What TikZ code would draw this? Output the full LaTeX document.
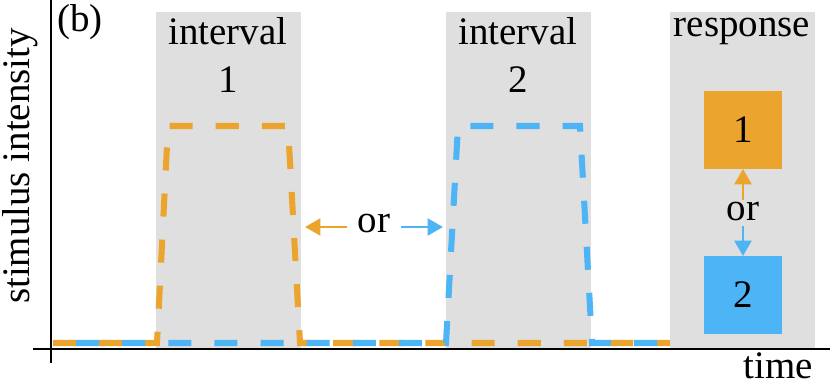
\documentclass[tikz,border=0pt]{standalone}
\usepackage{fontspec}
\setmainfont{Liberation Serif}
\newfontfamily\trialfont{Liberation Serif}
\usepackage{tikz}
\usetikzlibrary{arrows.meta,positioning}
\definecolor{stimorange}{HTML}{EBA42E}
\definecolor{stimblue}{HTML}{4DB4F5}
\definecolor{bandgray}{HTML}{DFDFDF}
\tikzset{
  trial-band/.style={fill=bandgray, draw=none},
  trial-label/.style={font=\trialfont\fontsize{27.7}{32}\selectfont, inner sep=0pt, align=center},
  trial-stim/.style={line width=4.3pt, dash pattern=on 16.4pt off 16.4pt},
  trial-resp/.style={minimum width=1.95cm, minimum height=1.93cm, inner sep=0pt,
    font=\trialfont\fontsize{27.7}{32}\selectfont},
  trial-arrow/.style={line width=2.1pt, -{Triangle[length=11pt, width=12pt]}},
  trial-axis/.style={line width=2.1pt, black}
}

\begin{document}
\begin{tikzpicture}[x=0.025cm, y=-0.025cm]
  \useasboundingbox (0,0) rectangle (830,388);

  % Grey bands
  \fill[trial-band] (156,12) rectangle (301,349);
  \fill[trial-band] (446,12) rectangle (591,349);
  \fill[trial-band] (670,12) rectangle (815,349);

  % Stimuli
  \draw[trial-stim, stimorange] (53,343) -- (157,343) -- (168,126) -- (288,126) -- (300,343) -- (670,343);
  \draw[trial-stim, stimblue, dash phase=16.4pt] (53,343) -- (446,343) -- (458,126) -- (580,126) -- (592,343) -- (670,343);

  % Axes
  \draw[trial-axis] (51,0) -- (51,363);
  \draw[trial-axis] (33,349) -- (830,349);

  % Labels
  \node[trial-label] (panel) at (80,22) {(b)};
  \node[trial-label] (int1) at (228,31) {interval};
  \node[trial-label] (num1) at (228,80) {1};
  \node[trial-label] (int2) at (518,31) {interval};
  \node[trial-label] (num2) at (518,80) {2};
  \node[trial-label] (resp) at (742,31) {response};
  \node[trial-label, rotate=90] (ylab) at (20,166) {stimulus intensity};
  \node[trial-label] (xlab) at (778,366) {time};

  % Interval choice
  \node[trial-label] (ormid) at (374,224) {or};
  \coordinate (lefttip) at (305,227);
  \coordinate (righttip) at (443,227);
  \draw[trial-arrow, stimorange] (ormid.west |- lefttip) ++(-10,0) -- (lefttip);
  \draw[trial-arrow, stimblue] (ormid.east |- righttip) ++(10,0) -- (righttip);

  % Response boxes
  \node[trial-resp, fill=stimorange] (box1) at (743,130) {1};
  \node[trial-resp, fill=stimblue] (box2) at (743,295) {2};
  \node[trial-label] (orresp) at (743,212) {or};
  \draw[trial-arrow, stimorange] (orresp.north) ++(0,-2) -- (box1.south);
  \draw[trial-arrow, stimblue] (orresp.south) ++(0,4) -- (box2.north);
\end{tikzpicture}
\end{document}
